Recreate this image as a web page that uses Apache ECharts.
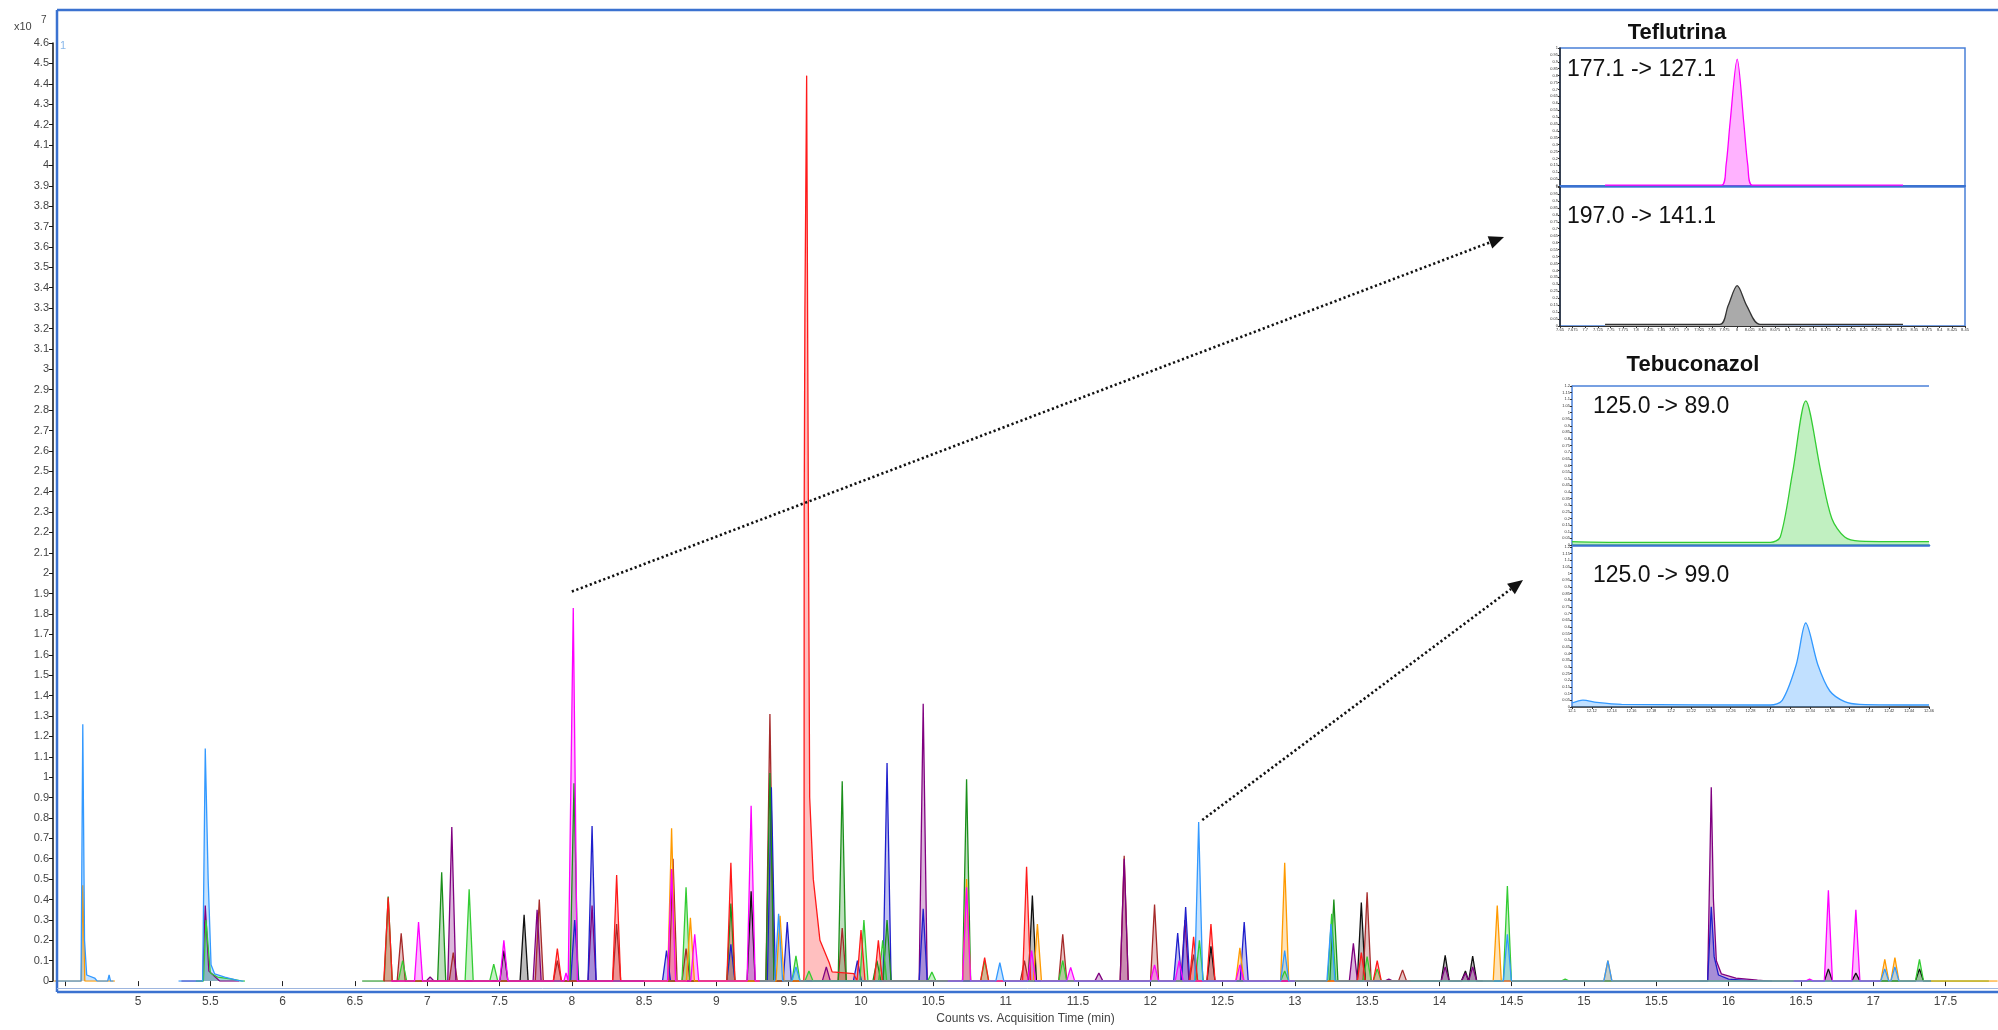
<!DOCTYPE html>
<html>
<head>
<meta charset="utf-8">
<script src="https://cdn.jsdelivr.net/npm/echarts@6/dist/echarts.min.js"></script>
<style>
html, body { margin: 0; padding: 0; background: #fff; }
#main { width: 1998px; height: 1030px; }
</style>
</head>
<body>
<div id="main"></div>
<script>
var chart = echarts.init(document.getElementById('main'));
var FONT = '"Liberation Sans", Arial, sans-serif';

// main chromatogram peaks: [retention time (min), height (x10^7), left half width, right half width]
var ltBluePeaks = [[4.618,1.26,0.012,0.1],[4.80,0.03,0.01,0.01],[5.465,1.14,0.018,0.25],[9.43,0.33],[9.55,0.07],[10.96,0.09],[12.335,0.78],[12.93,0.15],[13.25,0.28],[14.47,0.23],[15.165,0.1],[17.08,0.06],[17.15,0.07]];
var ltBlueTails = [[4.63,0.2],[4.645,0.03],[4.70,0.015],[5.485,0.5],[5.505,0.08],[5.53,0.035],[5.60,0.02],[5.68,0.005]];
var ltBlueSpans = [[4.43,4.83],[5.28,5.73],[9.3,17.4]];

var orangePeaks = [[4.618,0.47,0.01,0.014],[8.69,0.75],[8.82,0.31],[9.44,0.32],[10.73,0.5],[11.22,0.28],[12.62,0.163],[12.93,0.58],[14.40,0.37],[15.165,0.1],[17.08,0.107],[17.15,0.115]];
var orangeSpans = [[4.42,4.84],[8.5,17.86]];

var magentaPeaks = [[6.94,0.29],[7.53,0.2],[7.96,0.04,0.015,0.015],[8.01,1.83],[8.69,0.55],[8.85,0.23],[9.24,0.86],[10.73,0.46],[11.18,0.15],[11.45,0.067],[12.03,0.08],[12.20,0.1],[12.62,0.08],[16.56,0.01],[16.69,0.445],[16.88,0.35]];
var magentaSpans = [[6.75,9.3],[10.6,13.0],[16.45,17.05]];

var greenPeaks = [[5.47,0.3,0.018,0.25],[6.83,0.1],[7.29,0.45],[7.46,0.083],[8.79,0.46],[9.55,0.124],[9.64,0.05],[10.02,0.30],[10.15,0.2],[10.49,0.045],[10.855,0.1],[11.395,0.1],[12.34,0.2],[12.93,0.05],[13.255,0.33],[13.50,0.12],[13.57,0.06],[14.47,0.466],[14.87,0.01],[17.32,0.106]];
var greenTails = [[5.50,0.04],[5.55,0.02],[5.65,0.01]];
var greenSpans = [[5.40,5.74],[6.8,17.8]];

var dkGreenPeaks = [[6.73,0.415],[7.10,0.534],[8.015,0.97],[9.10,0.38],[9.37,1.02],[9.87,0.98],[10.11,0.1],[10.18,0.3],[10.73,0.99],[13.27,0.4]];
var dkGreenSpans = [[6.55,13.4]];

var redPeaks = [[6.73,0.41],[7.90,0.16],[8.31,0.52],[9.10,0.58],[9.624,4.44,0.02,0.35],[10.0,0.25],[10.12,0.2],[10.855,0.115],[11.145,0.56],[12.30,0.217],[12.42,0.28],[13.46,0.14],[13.57,0.1]];
var redTails = [[9.606,0.04],[9.607,2.3],[9.612,3.3],[9.632,3.0],[9.636,2.3],[9.645,0.9],[9.67,0.5],[9.716,0.2],[9.78,0.09],[9.80,0.045],[9.95,0.037]];
var redSpans = [[6.7,13.8]];

var brownPeaks = [[6.82,0.234],[7.18,0.14],[7.775,0.40],[7.90,0.1],[8.31,0.28],[8.70,0.6],[8.79,0.16],[9.37,1.31],[9.87,0.26],[11.13,0.1],[11.395,0.23],[11.82,0.615],[12.03,0.375],[12.30,0.13],[13.50,0.435],[13.745,0.055]];
var brownSpans = [[6.7,13.8]];

var purplePeaks = [[5.465,0.37,0.018,0.1],[7.02,0.02],[7.17,0.755],[7.76,0.35],[8.14,0.37],[9.76,0.07],[10.43,1.36],[11.645,0.04],[11.82,0.6],[12.24,0.3],[13.405,0.185],[13.65,0.01],[14.04,0.07],[14.18,0.04],[14.23,0.07],[15.88,0.95,0.025,0.4]];
var purpleTails = [[5.49,0.05],[15.895,0.4],[15.915,0.1],[15.95,0.035],[16.05,0.015],[16.2,0.005]];
var purpleSpans = [[5.3,5.7],[6.95,12.5],[13.3,16.45]];

var bluePeaks = [[8.02,0.3],[8.14,0.76],[8.655,0.15],[9.10,0.18],[9.38,0.95],[9.49,0.29],[9.975,0.1],[10.18,1.07],[10.43,0.355],[12.19,0.236],[12.245,0.363],[12.65,0.29],[15.88,0.365,0.025,0.3]];
var blueTails = [[15.90,0.12],[15.93,0.03],[16.0,0.01]];
var blueSpans = [[7.95,12.8],[15.8,16.3]];

var blackPeaks = [[7.53,0.15],[7.67,0.325],[9.24,0.44],[11.185,0.42],[12.42,0.17],[13.46,0.385],[14.04,0.126],[14.18,0.05],[14.23,0.123],[16.69,0.06],[16.88,0.04],[17.32,0.06]];
var blackSpans = [[7.45,9.35],[11.1,11.3],[12.35,12.5],[13.35,14.3],[16.45,17.4]];

var xTickValues = [4.5,5,5.5,6,6.5,7,7.5,8,8.5,9,9.5,10,10.5,11,11.5,12,12.5,13,13.5,14,14.5,15,15.5,16,16.5,17,17.5];
var xLabelValues = [5,5.5,6,6.5,7,7.5,8,8.5,9,9.5,10,10.5,11,11.5,12,12.5,13,13.5,14,14.5,15,15.5,16,16.5,17,17.5];

// insets: [time (min), counts]
var teflutrina1 = [[7.739,0.006],[7.969,0.006],[7.978,0.15],[7.986,0.46],[8.0,0.92],[8.013,0.46],[8.021,0.15],[8.03,0.006],[8.3275,0.006]];
var teflutrina2 = [[7.739,0.012],[7.966,0.012],[7.982,0.145],[8.0,0.29],[8.019,0.145],[8.045,0.012],[8.3275,0.012]];
var tebuconazol1 = [[12.10,0.025],[12.14,0.02],[12.30,0.02],[12.31,0.06],[12.3225,0.55],[12.3357,1.087],[12.351,0.55],[12.362,0.2],[12.375,0.06],[12.39,0.03],[12.46,0.025]];
var tebuconazol2 = [[12.10,0.03],[12.111,0.052],[12.125,0.035],[12.15,0.02],[12.30,0.015],[12.312,0.05],[12.326,0.315],[12.3357,0.63],[12.348,0.315],[12.36,0.12],[12.375,0.04],[12.39,0.02],[12.46,0.015]];

// arrows: start at a data point of the main chart, end in the inset area (px)
var arrowFrom = [[8.0, 1.91], [12.36, 0.79]];
var arrowTo = [[1504, 237], [1523, 580]];

var HALF_WIDTH = 0.028;

function build(peaks, tails, spans) {
    var out = [];
    spans.forEach(function (s, i) {
        var pts = [[s[0], 0], [s[1], 0]];
        peaks.forEach(function (p) {
            if (p[0] <= s[0] || p[0] >= s[1]) return;
            var wl = p[2] || HALF_WIDTH, wr = p[3] || p[2] || HALF_WIDTH;
            pts.push([p[0] - wl, 0], [p[0], p[1]], [p[0] + wr, 0]);
        });
        (tails || []).forEach(function (t) {
            if (t[0] > s[0] && t[0] < s[1]) pts.push(t);
        });
        pts.sort(function (a, b) { return a[0] - b[0]; });
        if (i) out.push([s[0] - 0.001, '-']);
        out = out.concat(pts);
    });
    return out;
}

function trace(name, color, data) {
    return {
        name: name,
        type: 'line',
        xAxisIndex: 0,
        yAxisIndex: 0,
        data: data,
        symbol: 'none',
        silent: true,
        lineStyle: { color: color, width: 1.3 },
        areaStyle: { color: color, opacity: 0.28 }
    };
}

function inset(idx, color, data, fill, stroke) {
    return {
        type: 'line',
        xAxisIndex: idx,
        yAxisIndex: idx,
        data: data,
        symbol: 'none',
        smooth: 0.3,
        silent: true,
        lineStyle: { color: stroke || color, width: 1.3 },
        areaStyle: { color: fill || color, opacity: fill ? 1 : 0.3 }
    };
}

var blueFrame = '#3b72d0';
var tinyLabel = { fontSize: 4, color: '#333', margin: 2, fontFamily: FONT };

function insetX(i, min, max, interval, showLabels, lineColor, lineWidth) {
    return {
        type: 'value', gridIndex: i, min: min, max: max, interval: interval,
        axisLine: { show: true, onZero: false, lineStyle: { color: lineColor, width: lineWidth } },
        axisTick: { show: showLabels, length: 2, lineStyle: { color: '#333' } },
        axisLabel: Object.assign({ show: showLabels }, tinyLabel),
        splitLine: { show: false }
    };
}
function insetY(i, max, lineColor) {
    return {
        type: 'value', gridIndex: i, min: 0, max: max, interval: 0.05,
        axisLine: { show: true, lineStyle: { color: lineColor, width: 1.5 } },
        axisTick: { show: true, length: 2, lineStyle: { color: '#333' } },
        axisLabel: tinyLabel,
        splitLine: { show: false }
    };
}

var option = {
    animation: false,
    backgroundColor: '#fff',
    textStyle: { fontFamily: FONT },
    grid: [
        { left: 53, right: 0, top: 43, bottom: 45 },
        { left: 1560, top: 48, width: 405, height: 138, show: true, borderColor: '#4a80d8', borderWidth: 1.5 },
        { left: 1560, top: 187, width: 405, height: 139, show: true, borderColor: '#4a80d8', borderWidth: 1.5 },
        { left: 1572, top: 386, width: 357, height: 159 },
        { left: 1572, top: 547, width: 357, height: 160 }
    ],
    xAxis: [
        {
            type: 'value', gridIndex: 0, min: 4.412, max: 17.863,
            offset: 9,
            name: 'Counts vs. Acquisition Time (min)',
            nameLocation: 'middle', nameGap: 22,
            nameTextStyle: { color: '#444', fontSize: 12 },
            axisLine: { show: false },
            axisTick: { show: true, length: 5, customValues: xTickValues, lineStyle: { color: '#222' } },
            axisLabel: { customValues: xLabelValues, color: '#444', fontSize: 12, margin: 6 },
            splitLine: { show: false }
        },
        insetX(1, 7.65, 8.45, 0.025, false, '#3b72d0', 2),
        insetX(2, 7.65, 8.45, 0.025, true, '#333', 1.2),
        insetX(3, 12.10, 12.46, 0.02, false, '#3b72d0', 2.5),
        insetX(4, 12.10, 12.46, 0.02, true, '#222', 1.5)
    ],
    yAxis: [
        {
            type: 'value', gridIndex: 0, min: 0, max: 4.6, interval: 0.1,
            axisLine: { show: true, lineStyle: { color: '#111', width: 1.5 } },
            axisTick: { show: true, length: 4, lineStyle: { color: '#111' } },
            axisLabel: { color: '#444', fontSize: 11, margin: 4 },
            splitLine: { show: false }
        },
        insetY(1, 1.0, '#222'),
        insetY(2, 1.0, '#222'),
        insetY(3, 1.2, '#4a80d8'),
        insetY(4, 1.2, '#4a80d8')
    ],
    series: [
        trace('black', '#111111', build(blackPeaks, null, blackSpans)),
        trace('brown', '#a52a2a', build(brownPeaks, null, brownSpans)),
        trace('purple', '#800080', build(purplePeaks, purpleTails, purpleSpans)),
        trace('blue', '#1f1fcc', build(bluePeaks, blueTails, blueSpans)),
        trace('dkgreen', '#1a8f1a', build(dkGreenPeaks, null, dkGreenSpans)),
        trace('green', '#33cc33', build(greenPeaks, greenTails, greenSpans)),
        trace('red', '#ff1a1a', build(redPeaks, redTails, redSpans)),
        trace('orange', '#ff9a00', build(orangePeaks, null, orangeSpans)),
        trace('magenta', '#ff00ff', build(magentaPeaks, null, magentaSpans)),
        trace('ltblue', '#3399ff', build(ltBluePeaks, ltBlueTails, ltBlueSpans)),
        inset(1, '#ff00ff', teflutrina1),
        inset(2, '#333333', teflutrina2, '#aaaaaa', '#333333'),
        inset(3, '#33cc33', tebuconazol1),
        inset(4, '#3399ff', tebuconazol2)
    ]
};

chart.setOption(option);

function arrow(from, to) {
    var p = chart.convertToPixel({ xAxisIndex: 0, yAxisIndex: 0 }, from);
    var dx = to[0] - p[0], dy = to[1] - p[1];
    var len = Math.sqrt(dx * dx + dy * dy);
    var ux = dx / len, uy = dy / len;
    var hl = 15, hw = 6.5;
    var bx = to[0] - ux * hl, by = to[1] - uy * hl;
    return [
        {
            type: 'line', z: 50,
            shape: { x1: p[0], y1: p[1], x2: bx, y2: by },
            style: { stroke: '#111', lineWidth: 2.6, lineDash: [2.2, 2.6] }
        },
        {
            type: 'polygon', z: 50,
            shape: { points: [[to[0], to[1]], [bx - uy * hw, by + ux * hw], [bx + uy * hw, by - ux * hw]] },
            style: { fill: '#111' }
        }
    ];
}

function label(text, x, y, size, bold, align) {
    return {
        type: 'text', z: 60,
        style: {
            text: text, x: x, y: y,
            font: (bold ? 'bold ' : '') + size + 'px ' + FONT,
            fill: '#111', align: align || 'left', verticalAlign: 'middle'
        }
    };
}

var graphics = [
    { type: 'line', z: 40, shape: { x1: 57, y1: 10, x2: 1998, y2: 10 }, style: { stroke: blueFrame, lineWidth: 2.5 } },
    { type: 'line', z: 40, shape: { x1: 57, y1: 10, x2: 57, y2: 992 }, style: { stroke: blueFrame, lineWidth: 2.5 } },
    { type: 'line', z: 40, shape: { x1: 57, y1: 992, x2: 1998, y2: 992 }, style: { stroke: blueFrame, lineWidth: 2.5 } },
    { type: 'line', z: 40, shape: { x1: 57, y1: 988.5, x2: 1998, y2: 988.5 }, style: { stroke: '#9db5de', lineWidth: 1 } },
    { type: 'line', z: 40, shape: { x1: 1572, y1: 386, x2: 1929, y2: 386 }, style: { stroke: '#4a80d8', lineWidth: 1.5 } },
    { type: 'text', style: { text: 'x10', x: 14, y: 27, font: '11px ' + FONT, fill: '#444', verticalAlign: 'middle' } },
    { type: 'text', style: { text: '7', x: 41, y: 20, font: '10px ' + FONT, fill: '#444', verticalAlign: 'middle' } },
    { type: 'text', style: { text: '1', x: 60, y: 46, font: '11px ' + FONT, fill: '#8ab8ea', verticalAlign: 'middle' } },
    label('Teflutrina', 1677, 33, 22, true, 'center'),
    label('177.1 -> 127.1', 1567, 70, 23),
    label('197.0 -> 141.1', 1567, 217, 23),
    label('Tebuconazol', 1693, 365, 22, true, 'center'),
    label('125.0 -> 89.0', 1593, 407, 23),
    label('125.0 -> 99.0', 1593, 576, 23)
];
arrowFrom.forEach(function (f, i) {
    graphics = graphics.concat(arrow(f, arrowTo[i]));
});
chart.setOption({ graphic: graphics });

window.addEventListener('resize', function () { chart.resize(); });
</script>
</body>
</html>
